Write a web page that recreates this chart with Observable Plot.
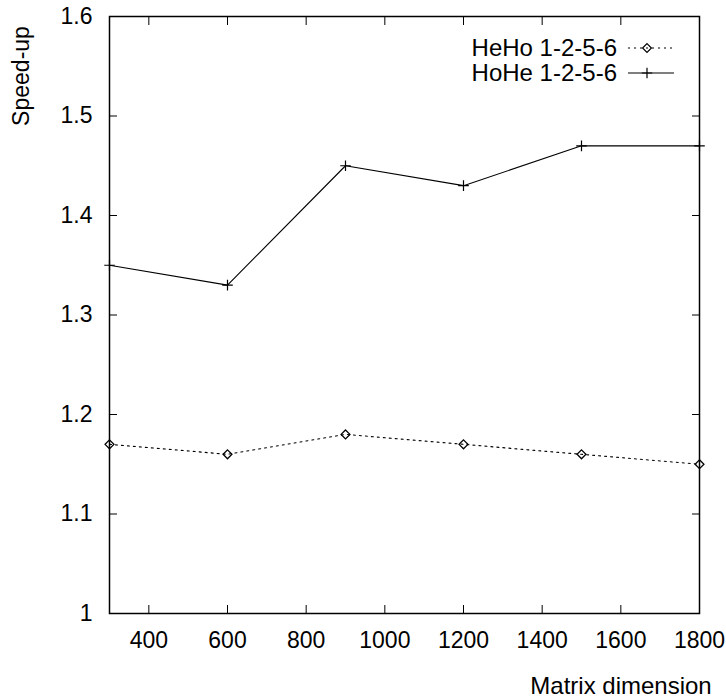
<!DOCTYPE html>
<html>
<head>
<meta charset="utf-8">
<script src="https://cdn.jsdelivr.net/npm/d3@7"></script>
<script src="https://cdn.jsdelivr.net/npm/@observablehq/plot@0.6"></script>
<style>
  html, body { margin: 0; padding: 0; background: #fff; }
  #chart svg { display: block; }
</style>
</head>
<body>
<div id="chart"></div>
<script>
const dims = [300, 600, 900, 1200, 1500, 1800];
const heho = [1.17, 1.16, 1.18, 1.17, 1.16, 1.15];
const hohe = [1.35, 1.33, 1.45, 1.43, 1.47, 1.47];
const seriesNames = ["HeHo 1-2-5-6", "HoHe 1-2-5-6"];
const xTicks = [400, 600, 800, 1000, 1200, 1400, 1600, 1800];
const yTicks = [1, 1.1, 1.2, 1.3, 1.4, 1.5, 1.6];
const xLabel = "Matrix dimension";
const yLabel = "Speed-up";

const dataHeHo = dims.map((d, i) => ({x: d, y: heho[i]}));
const dataHoHe = dims.map((d, i) => ({x: d, y: hohe[i]}));

const font = "'Liberation Sans', Arial, Helvetica, sans-serif";
const yFmt = d => d === 1 ? "1" : d.toFixed(1);
const xFmt = d => String(d);

const chart = Plot.plot({
  width: 726,
  height: 698,
  marginLeft: 109,
  marginRight: 27,
  marginTop: 16,
  marginBottom: 85,
  style: {fontFamily: font, fontSize: "23px", color: "#000", background: "#fff"},
  x: {domain: [300, 1800]},
  y: {domain: [1, 1.6]},
  marks: [
    Plot.axisX({anchor: "bottom", ticks: xTicks, tickSize: -8, tickPadding: 26, tickFormat: xFmt, label: null, fontSize: 23}),
    Plot.axisX({anchor: "top", ticks: xTicks, tickSize: -8, tickFormat: () => "", label: null}),
    Plot.axisY({anchor: "left", ticks: yTicks, tickSize: -8, tickPadding: 25, tickFormat: yFmt, label: null, fontSize: 23}),
    Plot.axisY({anchor: "right", ticks: yTicks, tickSize: -8, tickFormat: () => "", label: null}),
    Plot.line(dataHeHo, {x: "x", y: "y", stroke: "#000", strokeWidth: 1.1, strokeDasharray: "2,4"}),
    Plot.dot(dataHeHo, {x: "x", y: "y", symbol: "diamond2", r: 4, stroke: "#000", strokeWidth: 1.3}),
    Plot.line(dataHoHe, {x: "x", y: "y", stroke: "#000", strokeWidth: 1.1}),
    Plot.dot(dataHoHe, {x: "x", y: "y", symbol: "plus", r: 3.5, stroke: "#000", strokeWidth: 1.2}),
    Plot.frame({stroke: "#000", strokeWidth: 1.5})
  ]
});

document.getElementById("chart").appendChild(chart);

const svg = d3.select(chart);
// axis titles
svg.append("text")
  .attr("transform", "translate(29,76) rotate(-90)")
  .attr("text-anchor", "middle")
  .attr("font-family", font).attr("font-size", 23).attr("fill", "#000")
  .text(yLabel);
svg.append("text")
  .attr("x", 621).attr("y", 694)
  .attr("text-anchor", "middle")
  .attr("font-family", font).attr("font-size", 24).attr("fill", "#000")
  .text(xLabel);

// legend
const legend = svg.append("g").attr("font-family", font).attr("font-size", 24).attr("fill", "#000");
const rows = [
  {name: seriesNames[0], dash: "2,4", sym: d3.symbolDiamond2, size: 50},
  {name: seriesNames[1], dash: null, sym: d3.symbolPlus, size: 38}
];
rows.forEach((r, i) => {
  const cy = 48 + i * 25;
  legend.append("text").attr("x", 617).attr("y", cy).attr("dy", "0.35em")
    .attr("text-anchor", "end").text(r.name);
  legend.append("line").attr("x1", 628).attr("x2", 674).attr("y1", cy).attr("y2", cy)
    .attr("stroke", "#000").attr("stroke-width", 1.1)
    .attr("stroke-dasharray", r.dash);
  legend.append("path").attr("d", d3.symbol(r.sym, r.size)())
    .attr("transform", `translate(647,${cy})`)
    .attr("fill", "none").attr("stroke", "#000").attr("stroke-width", 1.2);
});
</script>
</body>
</html>
